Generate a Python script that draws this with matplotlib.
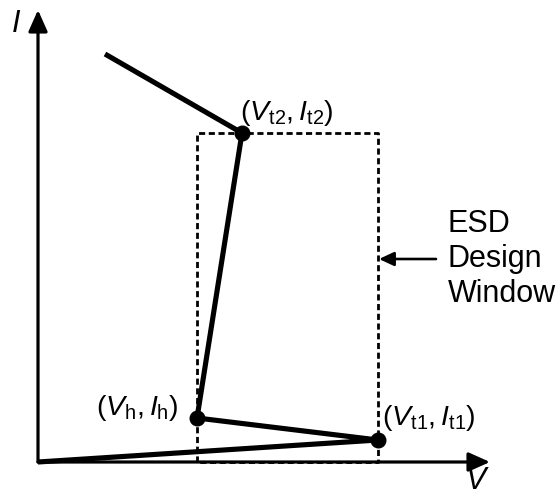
import matplotlib
matplotlib.use("Agg")
import matplotlib.pyplot as plt

plt.rcParams['font.family'] = ['Liberation Sans', 'DejaVu Sans']
plt.rcParams['mathtext.fontset'] = 'custom'
plt.rcParams['mathtext.rm'] = 'Liberation Sans'
plt.rcParams['mathtext.it'] = 'Liberation Sans:italic'

# Snapback I-V curve (arbitrary units)
curve_v = [67, 204, 159, 340, 0]
curve_i = [408, 329, 44, 22, 0]
# key points
point_v = [204, 159, 340]
point_i = [329, 44, 22]
point_labels = [r'$(V_{\mathrm{t2}},I_{\mathrm{t2}})$',
                r'$(V_{\mathrm{h}},I_{\mathrm{h}})$',
                r'$(V_{\mathrm{t1}},I_{\mathrm{t1}})$']
# design window
window_v = [159, 340]
window_i = [0, 329]

fig = plt.figure(figsize=(5.6, 4.95), dpi=100)
ax = fig.add_axes([0, 0, 1, 1])
ax.set_xlim(-38, 522)
ax.set_ylim(-33, 462)
ax.axis('off')

# axes arrows
ap = dict(arrowstyle='-|>,head_length=13,head_width=5.8', mutation_scale=1,
          lw=2.3, color='k', shrinkA=0, shrinkB=0)
ax.annotate('', xy=(0, 452), xytext=(0, 0), arrowprops=ap)
ax.annotate('', xy=(452, 0), xytext=(0, 0), arrowprops=ap)
ax.text(-22, 438, 'I', fontsize=22, style='italic', ha='center', va='center')
ax.text(438, -19, 'V', fontsize=22, style='italic', ha='center', va='center')

# design window rectangle
wv = [window_v[0], window_v[0], window_v[1], window_v[1], window_v[0]]
wi = [window_i[0], window_i[1], window_i[1], window_i[0], window_i[0]]
ax.plot(wv, wi, color='k', lw=2.0, linestyle=(0, (2.2, 1.3)), zorder=2)

# curve
ax.plot(curve_v, curve_i, color='k', lw=3.7, solid_capstyle='butt',
        solid_joinstyle='round', zorder=3)
ax.plot(point_v, point_i, 'o', color='k', markersize=10.5, zorder=4)

# labels
ax.text(202, 349, point_labels[0], fontsize=20.5, ha='left', va='center')
ax.text(141, 54, point_labels[1], fontsize=20.5, ha='right', va='center')
ax.text(344, 44, point_labels[2], fontsize=20.5, ha='left', va='center')

# ESD design window annotation
ax.annotate('', xy=(341, 203), xytext=(398, 203),
            arrowprops=dict(arrowstyle='-|>,head_length=9,head_width=4.2',
                            mutation_scale=1, lw=1.9, color='k',
                            shrinkA=0, shrinkB=0))
ax.text(410, 203, 'ESD\nDesign\nWindow', fontsize=22, ha='left', va='center',
        linespacing=1.2)

fig.savefig('out.png', dpi=100)
